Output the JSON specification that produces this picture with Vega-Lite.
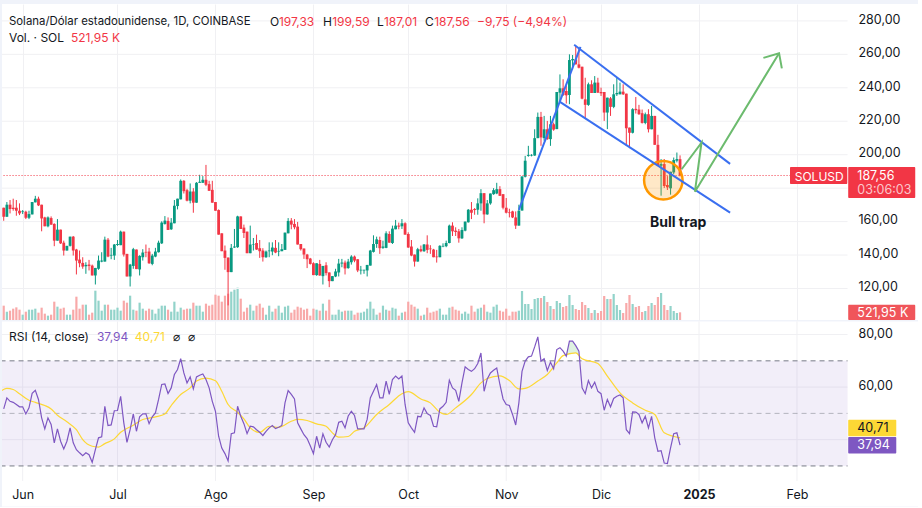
{
"$schema":"https://vega.github.io/schema/vega-lite/v6.json",
"background":"#f0f3fa",
"padding":{"left":2,"top":4,"right":0,"bottom":0},
"spacing":0.5,
"config":{"font":"Inter","view":{"stroke":null,"fill":"white"}},
"datasets":{
"candles":[
{"d":"2024-05-26","o":168.3,"c":162.9,"h":168.3,"l":160.5,"v":975,"r":51.7},
{"d":"2024-05-27","o":162.9,"c":170.1,"h":171.7,"l":162.9,"v":567,"r":55.9},
{"d":"2024-05-28","o":170.1,"c":167.5,"h":172.9,"l":164.9,"v":635,"r":54.6},
{"d":"2024-05-29","o":168.3,"c":167.5,"h":173.7,"l":166.5,"v":771,"r":54.2},
{"d":"2024-05-30","o":168.3,"c":166.5,"h":172.9,"l":163.5,"v":861,"r":53.4},
{"d":"2024-05-31","o":166.5,"c":164.9,"h":170.9,"l":163.9,"v":703,"r":52.5},
{"d":"2024-06-01","o":165.7,"c":166.1,"h":166.9,"l":164.5,"v":363,"r":52.5},
{"d":"2024-06-02","o":165.9,"c":162.3,"h":166.5,"l":161.5,"v":567,"r":49.8},
{"d":"2024-06-03","o":162.3,"c":164.5,"h":166.5,"l":161.5,"v":703,"r":52.1},
{"d":"2024-06-04","o":164.3,"c":171.7,"h":171.7,"l":164.3,"v":703,"r":57.6},
{"d":"2024-06-05","o":171.5,"c":173.7,"h":175.4,"l":171.5,"v":771,"r":58.8},
{"d":"2024-06-06","o":173.7,"c":169.7,"h":174.9,"l":169.3,"v":499,"r":55.3},
{"d":"2024-06-07","o":170.1,"c":161.9,"h":170.1,"l":154.2,"v":839,"r":48.3},
{"d":"2024-06-08","o":162.5,"c":157.2,"h":162.9,"l":157.2,"v":431,"r":44.1},
{"d":"2024-06-09","o":157.2,"c":162.5,"h":163.1,"l":156.6,"v":295,"r":48.3},
{"d":"2024-06-10","o":162.1,"c":158.2,"h":163.1,"l":158,"v":363,"r":45.8},
{"d":"2024-06-11","o":158.6,"c":148.6,"h":159,"l":145.3,"v":1247,"r":38.8},
{"d":"2024-06-12","o":148.6,"c":155.2,"h":161.5,"l":148.6,"v":907,"r":44.1},
{"d":"2024-06-13","o":155.2,"c":147,"h":155.2,"l":146.6,"v":771,"r":39.4},
{"d":"2024-06-14","o":147.4,"c":142.7,"h":148.6,"l":139.7,"v":839,"r":36.5},
{"d":"2024-06-15","o":142.7,"c":145.5,"h":145.5,"l":142.7,"v":363,"r":39.4},
{"d":"2024-06-16","o":145.5,"c":151,"h":151,"l":145.1,"v":363,"r":44.5},
{"d":"2024-06-17","o":151,"c":142.7,"h":151.4,"l":139.7,"v":703,"r":38.8},
{"d":"2024-06-18","o":143.3,"c":136.7,"h":143.7,"l":128.4,"v":1587,"r":36.2},
{"d":"2024-06-19","o":137.3,"c":135.1,"h":142.7,"l":132.7,"v":771,"r":35},
{"d":"2024-06-20","o":135.3,"c":133.1,"h":138.7,"l":131.8,"v":1043,"r":33.9},
{"d":"2024-06-21","o":133.3,"c":134.1,"h":135.7,"l":128.8,"v":1043,"r":35},
{"d":"2024-06-22","o":134.3,"c":133.5,"h":137.1,"l":130.8,"v":363,"r":34.3},
{"d":"2024-06-23","o":133.7,"c":127.8,"h":134.3,"l":127.8,"v":499,"r":31.4},
{"d":"2024-06-24","o":127.8,"c":132.3,"h":132.3,"l":122.4,"v":1995,"r":36.2},
{"d":"2024-06-25","o":131.8,"c":136.7,"h":139.7,"l":131.2,"v":1315,"r":40.7},
{"d":"2024-06-26","o":136.1,"c":136.7,"h":141.7,"l":135.7,"v":635,"r":41.1},
{"d":"2024-06-27","o":136.1,"c":149.2,"h":151,"l":136.1,"v":1043,"r":52.7},
{"d":"2024-06-28","o":149.2,"c":139.1,"h":150.2,"l":138.7,"v":1043,"r":45.4},
{"d":"2024-06-29","o":139.7,"c":140.1,"h":144.3,"l":137.5,"v":703,"r":45.6},
{"d":"2024-06-30","o":139.7,"c":146.3,"h":146.6,"l":137.1,"v":703,"r":51},
{"d":"2024-07-01","o":146,"c":146.6,"h":149,"l":145.5,"v":839,"r":51.1},
{"d":"2024-07-02","o":145.9,"c":154,"h":154.6,"l":145.9,"v":635,"r":56.5},
{"d":"2024-07-03","o":154,"c":140.3,"h":154,"l":139.1,"v":1315,"r":46.4},
{"d":"2024-07-04","o":140.7,"c":127.2,"h":140.7,"l":127.2,"v":1179,"r":39},
{"d":"2024-07-05","o":127.2,"c":134.3,"h":134.7,"l":121.2,"v":1655,"r":43.8},
{"d":"2024-07-06","o":133.5,"c":143.5,"h":144.3,"l":131.8,"v":703,"r":49.8},
{"d":"2024-07-07","o":143.3,"c":131.6,"h":143.3,"l":131.6,"v":635,"r":43.2},
{"d":"2024-07-08","o":131.4,"c":139.5,"h":139.9,"l":127.8,"v":1179,"r":48.7},
{"d":"2024-07-09","o":138.7,"c":141.5,"h":143.5,"l":136.7,"v":771,"r":49.8},
{"d":"2024-07-10","o":141.9,"c":141.5,"h":146.3,"l":138.7,"v":635,"r":49.8},
{"d":"2024-07-11","o":142.1,"c":135.1,"h":144.3,"l":134.7,"v":771,"r":46.1},
{"d":"2024-07-12","o":134.7,"c":139.7,"h":140.7,"l":133.9,"v":703,"r":48.7},
{"d":"2024-07-13","o":139.1,"c":142.1,"h":144.3,"l":138.7,"v":431,"r":50.2},
{"d":"2024-07-14","o":141.7,"c":147.4,"h":148.6,"l":141.5,"v":771,"r":55.3},
{"d":"2024-07-15","o":147,"c":159.4,"h":160.2,"l":146.6,"v":975,"r":61},
{"d":"2024-07-16","o":158.6,"c":160.6,"h":163.3,"l":158.2,"v":975,"r":61.2},
{"d":"2024-07-17","o":160.4,"c":155,"h":162.5,"l":155,"v":703,"r":57.6},
{"d":"2024-07-18","o":155.4,"c":159.4,"h":162.1,"l":155,"v":567,"r":59.7},
{"d":"2024-07-19","o":159,"c":169.5,"h":172.9,"l":159,"v":1247,"r":64.8},
{"d":"2024-07-20","o":169.3,"c":173.7,"h":173.7,"l":167.3,"v":567,"r":66.7},
{"d":"2024-07-21","o":173.3,"c":184.4,"h":185.2,"l":173.3,"v":839,"r":70.8},
{"d":"2024-07-22","o":184.4,"c":178.2,"h":184.8,"l":176.8,"v":703,"r":65.4},
{"d":"2024-07-23","o":178.8,"c":172.5,"h":179.6,"l":172.1,"v":771,"r":61.6},
{"d":"2024-07-24","o":172.5,"c":178,"h":182.8,"l":170.9,"v":771,"r":63.9},
{"d":"2024-07-25","o":178,"c":171.3,"h":180,"l":165.3,"v":1179,"r":59.3},
{"d":"2024-07-26","o":171.3,"c":183.2,"h":183.6,"l":171.3,"v":975,"r":63.9},
{"d":"2024-07-27","o":183.2,"c":183.8,"h":188,"l":183.2,"v":975,"r":64.5},
{"d":"2024-07-28","o":183.2,"c":185,"h":187.2,"l":183.2,"v":567,"r":65},
{"d":"2024-07-29","o":185,"c":182,"h":193.9,"l":181.2,"v":1111,"r":62.9},
{"d":"2024-07-30","o":182.4,"c":178.4,"h":184.4,"l":178.4,"v":975,"r":59.7},
{"d":"2024-07-31","o":179,"c":171.3,"h":184.4,"l":171.3,"v":1043,"r":54.6},
{"d":"2024-08-01","o":171.7,"c":166.5,"h":171.7,"l":166.5,"v":1723,"r":50.8},
{"d":"2024-08-02","o":166.9,"c":152.2,"h":167.3,"l":152.2,"v":1655,"r":41.3},
{"d":"2024-08-03","o":153,"c":142.3,"h":153,"l":142.3,"v":1247,"r":36.8},
{"d":"2024-08-04","o":142.7,"c":138.3,"h":145.7,"l":131.2,"v":1655,"r":34.7},
{"d":"2024-08-05","o":138.5,"c":129.8,"h":138.5,"l":109.9,"v":1791,"r":31.9},
{"d":"2024-08-06","o":129.8,"c":144.3,"h":146.6,"l":129.8,"v":1927,"r":42.3},
{"d":"2024-08-07","o":144.5,"c":145.1,"h":155.6,"l":144.3,"v":2063,"r":42.6},
{"d":"2024-08-08","o":144.7,"c":163.1,"h":163.5,"l":144.3,"v":2199,"r":52.7},
{"d":"2024-08-09","o":163.1,"c":155.6,"h":163.1,"l":155.6,"v":1451,"r":48.9},
{"d":"2024-08-10","o":156.4,"c":153.2,"h":158.2,"l":150.2,"v":567,"r":46.1},
{"d":"2024-08-11","o":154,"c":141.1,"h":154,"l":141.1,"v":839,"r":42.3},
{"d":"2024-08-12","o":141.1,"c":146.3,"h":157.6,"l":141.1,"v":1043,"r":45.1},
{"d":"2024-08-13","o":146.3,"c":146.6,"h":150.2,"l":142.7,"v":635,"r":44.9},
{"d":"2024-08-14","o":147.2,"c":143.3,"h":152.2,"l":143.1,"v":975,"r":43.8},
{"d":"2024-08-15","o":144.1,"c":142.3,"h":149,"l":138.3,"v":1111,"r":42.8},
{"d":"2024-08-16","o":142.7,"c":138.7,"h":144.1,"l":136.1,"v":839,"r":41.6},
{"d":"2024-08-17","o":138.7,"c":142.1,"h":142.7,"l":138.3,"v":363,"r":43.2},
{"d":"2024-08-18","o":142.3,"c":142.7,"h":147.6,"l":138.7,"v":975,"r":44.5},
{"d":"2024-08-19","o":142.1,"c":144.5,"h":147.6,"l":139.9,"v":567,"r":45.4},
{"d":"2024-08-20","o":144.3,"c":141.5,"h":149,"l":141.1,"v":771,"r":44.2},
{"d":"2024-08-21","o":142.1,"c":142.5,"h":147.6,"l":139.3,"v":975,"r":44.7},
{"d":"2024-08-22","o":142.3,"c":143.5,"h":146.6,"l":142.3,"v":499,"r":45.4},
{"d":"2024-08-23","o":143.1,"c":153.4,"h":153.4,"l":143.1,"v":907,"r":54},
{"d":"2024-08-24","o":153,"c":160.4,"h":162.1,"l":153,"v":975,"r":58.7},
{"d":"2024-08-25","o":160.6,"c":158.2,"h":162.1,"l":155.4,"v":499,"r":57.2},
{"d":"2024-08-26","o":158.6,"c":156.6,"h":161.5,"l":155.4,"v":703,"r":55.5},
{"d":"2024-08-27","o":157,"c":146.3,"h":159.8,"l":146.3,"v":907,"r":46.4},
{"d":"2024-08-28","o":146.6,"c":143.5,"h":146.6,"l":142.7,"v":839,"r":44.1},
{"d":"2024-08-29","o":143.9,"c":140.3,"h":143.9,"l":137.7,"v":703,"r":41.9},
{"d":"2024-08-30","o":140.3,"c":137.5,"h":140.7,"l":132.2,"v":771,"r":40.4},
{"d":"2024-08-31","o":137.9,"c":134.7,"h":138.3,"l":134.3,"v":295,"r":37.7},
{"d":"2024-09-01","o":135.1,"c":128,"h":135.7,"l":128,"v":771,"r":34.7},
{"d":"2024-09-02","o":128,"c":135.1,"h":135.1,"l":127.6,"v":703,"r":41.3},
{"d":"2024-09-03","o":134.7,"c":127.8,"h":137.1,"l":127.6,"v":635,"r":36.8},
{"d":"2024-09-04","o":127.4,"c":133.5,"h":133.5,"l":122.4,"v":1111,"r":42.2},
{"d":"2024-09-05","o":133.9,"c":129.2,"h":135.7,"l":127.8,"v":635,"r":39},
{"d":"2024-09-06","o":129.6,"c":124.4,"h":129.6,"l":120.8,"v":1383,"r":37.2},
{"d":"2024-09-07","o":124.4,"c":127.4,"h":127.4,"l":124.4,"v":363,"r":40},
{"d":"2024-09-08","o":127.2,"c":130.2,"h":131.8,"l":126.8,"v":363,"r":41.9},
{"d":"2024-09-09","o":129.6,"c":134.9,"h":137.7,"l":127.2,"v":703,"r":46.6},
{"d":"2024-09-10","o":134.9,"c":135.5,"h":137.7,"l":132.7,"v":567,"r":47},
{"d":"2024-09-11","o":135.5,"c":132,"h":136.7,"l":128.4,"v":635,"r":44.5},
{"d":"2024-09-12","o":132.2,"c":136.1,"h":137.7,"l":131.8,"v":635,"r":49},
{"d":"2024-09-13","o":135.7,"c":139.1,"h":139.9,"l":134.3,"v":635,"r":50.8},
{"d":"2024-09-14","o":139.1,"c":136.7,"h":139.7,"l":135.7,"v":363,"r":49.2},
{"d":"2024-09-15","o":137.5,"c":130.8,"h":137.5,"l":129.8,"v":499,"r":44.1},
{"d":"2024-09-16","o":130.8,"c":131.2,"h":133.5,"l":128.4,"v":499,"r":44.1},
{"d":"2024-09-17","o":130.8,"c":131.2,"h":131.2,"l":128.8,"v":567,"r":44.1},
{"d":"2024-09-18","o":130.8,"c":134.1,"h":134.1,"l":127.2,"v":771,"r":47.7},
{"d":"2024-09-19","o":133.7,"c":142.7,"h":143.1,"l":133.7,"v":1247,"r":55.9},
{"d":"2024-09-20","o":141.9,"c":146.6,"h":151.8,"l":141.5,"v":771,"r":58.4},
{"d":"2024-09-21","o":146.6,"c":149.4,"h":151,"l":144.3,"v":363,"r":61},
{"d":"2024-09-22","o":149,"c":144.1,"h":151,"l":140.7,"v":499,"r":55.9},
{"d":"2024-09-23","o":144.3,"c":145.1,"h":148.6,"l":143.7,"v":975,"r":55.9},
{"d":"2024-09-24","o":144.3,"c":153,"h":154.2,"l":144.1,"v":703,"r":62.3},
{"d":"2024-09-25","o":152.6,"c":147.4,"h":154.2,"l":147.4,"v":635,"r":57.2},
{"d":"2024-09-26","o":147.2,"c":155.8,"h":157.6,"l":146.6,"v":839,"r":62.9},
{"d":"2024-09-27","o":155.4,"c":157.6,"h":161,"l":155.4,"v":771,"r":64.2},
{"d":"2024-09-28","o":157.6,"c":157,"h":159.4,"l":155.4,"v":295,"r":63.1},
{"d":"2024-09-29","o":157.2,"c":159,"h":161.5,"l":155.6,"v":499,"r":64.2},
{"d":"2024-09-30","o":159,"c":152.2,"h":159.6,"l":152.2,"v":567,"r":53.4},
{"d":"2024-10-01","o":152.6,"c":144.5,"h":153.6,"l":144.3,"v":1247,"r":46.4},
{"d":"2024-10-02","o":145.1,"c":139.7,"h":149,"l":139.3,"v":1043,"r":44.5},
{"d":"2024-10-03","o":140.3,"c":136.1,"h":140.3,"l":133.1,"v":907,"r":42.8},
{"d":"2024-10-04","o":136.1,"c":143.5,"h":144.3,"l":136.1,"v":771,"r":48.9},
{"d":"2024-10-05","o":143.5,"c":142.3,"h":145.7,"l":141.7,"v":295,"r":48.7},
{"d":"2024-10-06","o":142.3,"c":146.3,"h":146.6,"l":141.9,"v":363,"r":52.1},
{"d":"2024-10-07","o":146.3,"c":143.1,"h":151.8,"l":141.1,"v":839,"r":49.9},
{"d":"2024-10-08","o":143.9,"c":143.5,"h":145.9,"l":140.7,"v":499,"r":49.2},
{"d":"2024-10-09","o":143.3,"c":138.7,"h":143.7,"l":138.7,"v":567,"r":45.1},
{"d":"2024-10-10","o":139.1,"c":138.7,"h":143.1,"l":135.5,"v":635,"r":44.9},
{"d":"2024-10-11","o":138.7,"c":145.5,"h":145.9,"l":138.7,"v":771,"r":51.7},
{"d":"2024-10-12","o":145.1,"c":145.5,"h":147,"l":144.7,"v":363,"r":52.7},
{"d":"2024-10-13","o":145.3,"c":147.2,"h":148.6,"l":144.7,"v":363,"r":54.2},
{"d":"2024-10-14","o":147.2,"c":157.6,"h":158.2,"l":147,"v":839,"r":62.6},
{"d":"2024-10-15","o":157.6,"c":154.2,"h":159.6,"l":151.4,"v":907,"r":59.7},
{"d":"2024-10-16","o":154.6,"c":153.8,"h":156.6,"l":151.4,"v":703,"r":58.8},
{"d":"2024-10-17","o":154.2,"c":150,"h":155.6,"l":147.4,"v":635,"r":54.6},
{"d":"2024-10-18","o":150,"c":155,"h":156.6,"l":149.6,"v":431,"r":61.6},
{"d":"2024-10-19","o":154.6,"c":160,"h":160,"l":154.2,"v":567,"r":67.7},
{"d":"2024-10-20","o":159.6,"c":167.1,"h":167.5,"l":159.4,"v":431,"r":66.7},
{"d":"2024-10-21","o":167.1,"c":165.3,"h":171.7,"l":161.5,"v":975,"r":66},
{"d":"2024-10-22","o":167.5,"c":166.9,"h":168.1,"l":164.1,"v":567,"r":67},
{"d":"2024-10-23","o":167.1,"c":170.9,"h":173.9,"l":164.1,"v":771,"r":69},
{"d":"2024-10-24","o":170.9,"c":177,"h":179.4,"l":166.5,"v":839,"r":73},
{"d":"2024-10-25","o":177,"c":164.3,"h":177,"l":159,"v":1043,"r":58.4},
{"d":"2024-10-26","o":164.3,"c":170.9,"h":172.9,"l":164.1,"v":567,"r":63.1},
{"d":"2024-10-27","o":170.9,"c":176.8,"h":176.8,"l":170.1,"v":499,"r":65.4},
{"d":"2024-10-28","o":176.4,"c":178.8,"h":180,"l":176,"v":907,"r":66.4},
{"d":"2024-10-29","o":176.8,"c":179.4,"h":183.2,"l":176.4,"v":1043,"r":67.3},
{"d":"2024-10-30","o":179.4,"c":175.4,"h":181.2,"l":175.4,"v":635,"r":61},
{"d":"2024-10-31","o":176.4,"c":168.3,"h":176.4,"l":167.3,"v":567,"r":55.5},
{"d":"2024-11-01","o":168.3,"c":165.3,"h":174.1,"l":164.9,"v":771,"r":53.4},
{"d":"2024-11-02","o":165.5,"c":165.1,"h":167.7,"l":162.5,"v":295,"r":53},
{"d":"2024-11-03","o":166.1,"c":162.5,"h":166.5,"l":162.1,"v":567,"r":49.6},
{"d":"2024-11-04","o":162.5,"c":157.6,"h":166.1,"l":155.6,"v":567,"r":45.6},
{"d":"2024-11-05","o":157.6,"c":166.5,"h":170.1,"l":157.6,"v":635,"r":54},
{"d":"2024-11-06","o":166.6,"c":187,"h":187,"l":166.6,"v":1972,"r":66},
{"d":"2024-11-07","o":186.8,"c":196.4,"h":199.3,"l":186.4,"v":1088,"r":69.9},
{"d":"2024-11-08","o":199.3,"c":199.9,"h":205.3,"l":198.8,"v":1088,"r":71.5},
{"d":"2024-11-09","o":199.5,"c":199.9,"h":200.3,"l":199,"v":748,"r":71.8},
{"d":"2024-11-10","o":199.5,"c":209.9,"h":215.2,"l":199.3,"v":1428,"r":75.3},
{"d":"2024-11-11","o":209.9,"c":222.6,"h":225.2,"l":209.9,"v":1496,"r":79.1},
{"d":"2024-11-12","o":222.6,"c":210.3,"h":225.6,"l":205.3,"v":1496,"r":69.9},
{"d":"2024-11-13","o":209.9,"c":215.2,"h":223.2,"l":208.3,"v":1632,"r":70.8},
{"d":"2024-11-14","o":215.2,"c":209.3,"h":220.2,"l":208.9,"v":1224,"r":66.3},
{"d":"2024-11-15","o":209.3,"c":218.2,"h":223.2,"l":205.3,"v":952,"r":69.5},
{"d":"2024-11-16","o":218.2,"c":215,"h":219.2,"l":214.3,"v":748,"r":67},
{"d":"2024-11-17","o":215.3,"c":237.5,"h":237.5,"l":215.3,"v":1292,"r":74.3},
{"d":"2024-11-18","o":237.1,"c":239.7,"h":248,"l":231.2,"v":1156,"r":75},
{"d":"2024-11-19","o":239.7,"c":235.7,"h":245.1,"l":235.1,"v":884,"r":73.7},
{"d":"2024-11-20","o":238.1,"c":235.5,"h":241.1,"l":230.6,"v":952,"r":71.8},
{"d":"2024-11-21","o":235.7,"c":256.6,"h":260,"l":230.2,"v":1700,"r":77.5},
{"d":"2024-11-22","o":256.4,"c":257.2,"h":259.6,"l":251,"v":1020,"r":77.5},
{"d":"2024-11-23","o":257,"c":254,"h":265,"l":254,"v":748,"r":75.8},
{"d":"2024-11-24","o":254,"c":252,"h":264,"l":251.6,"v":680,"r":73.7},
{"d":"2024-11-25","o":252.6,"c":233.5,"h":252.6,"l":233.1,"v":1224,"r":59.7},
{"d":"2024-11-26","o":233.1,"c":229.8,"h":246,"l":221.6,"v":1020,"r":57.5},
{"d":"2024-11-27","o":229.8,"c":242.1,"h":243.1,"l":229.2,"v":816,"r":62.5},
{"d":"2024-11-28","o":242.1,"c":236.9,"h":244.5,"l":236.9,"v":476,"r":59.7},
{"d":"2024-11-29","o":236.9,"c":243.1,"h":247,"l":236.9,"v":680,"r":61.9},
{"d":"2024-11-30","o":243.1,"c":237.1,"h":246,"l":236.9,"v":476,"r":58.4},
{"d":"2024-12-01","o":237.5,"c":236.7,"h":240.1,"l":235.1,"v":612,"r":57.5},
{"d":"2024-12-02","o":237.5,"c":225.2,"h":237.5,"l":220.2,"v":1632,"r":51.2},
{"d":"2024-12-03","o":225.2,"c":234.1,"h":234.1,"l":215.3,"v":1428,"r":55.3},
{"d":"2024-12-04","o":233.7,"c":228.6,"h":234.5,"l":223.2,"v":1428,"r":52.5},
{"d":"2024-12-05","o":228.6,"c":236.1,"h":242.1,"l":227.8,"v":1768,"r":55.7},
{"d":"2024-12-06","o":236.1,"c":236.9,"h":246.1,"l":235.1,"v":1020,"r":56.5},
{"d":"2024-12-07","o":236.1,"c":237.7,"h":243.1,"l":236.1,"v":680,"r":57},
{"d":"2024-12-08","o":237.7,"c":236.1,"h":242.1,"l":235.7,"v":476,"r":55.9},
{"d":"2024-12-09","o":236.5,"c":215.8,"h":236.5,"l":205.3,"v":1156,"r":43.8},
{"d":"2024-12-10","o":216.2,"c":213.1,"h":216.2,"l":203.9,"v":1700,"r":42.3},
{"d":"2024-12-11","o":213.1,"c":227.2,"h":227.8,"l":212.7,"v":1088,"r":50.6},
{"d":"2024-12-12","o":227.4,"c":226.6,"h":234.5,"l":224.6,"v":884,"r":50.5},
{"d":"2024-12-13","o":227,"c":224.2,"h":229.8,"l":223.8,"v":952,"r":49.6},
{"d":"2024-12-14","o":224.8,"c":219,"h":227,"l":218.6,"v":544,"r":46.4},
{"d":"2024-12-15","o":219,"c":224.2,"h":225.2,"l":218.2,"v":612,"r":48.9},
{"d":"2024-12-16","o":224.2,"c":215.2,"h":227.2,"l":213.3,"v":952,"r":44.5},
{"d":"2024-12-17","o":215.2,"c":223.2,"h":229.2,"l":215.2,"v":1156,"r":48.9},
{"d":"2024-12-18","o":223.2,"c":205.9,"h":223.2,"l":205.9,"v":1020,"r":40.7},
{"d":"2024-12-19","o":205.9,"c":193.4,"h":211.9,"l":193.4,"v":1564,"r":35.6},
{"d":"2024-12-20","o":193.4,"c":194.4,"h":197.4,"l":175.5,"v":1836,"r":35.8},
{"d":"2024-12-21","o":194.4,"c":181.3,"h":197.4,"l":180.1,"v":1020,"r":31.1},
{"d":"2024-12-22","o":181.9,"c":180.5,"h":187.2,"l":178.9,"v":680,"r":30.9},
{"d":"2024-12-23","o":179.9,"c":189.8,"h":189.8,"l":176.1,"v":952,"r":36.9},
{"d":"2024-12-24","o":189.4,"c":196.8,"h":198.3,"l":188.4,"v":612,"r":42.3},
{"d":"2024-12-25","o":196.4,"c":197.4,"h":201.3,"l":195.4,"v":476,"r":42.6},
{"d":"2024-12-26","o":197.33,"c":187.56,"h":199.59,"l":187.01,"v":522,"r":37.94}
],
"rsi_ma":[
{"d":"2024-05-25","m":58.4},{"d":"2024-05-27","m":59.5},{"d":"2024-05-29","m":59.1},{"d":"2024-05-31","m":57.5},
{"d":"2024-06-03","m":55},{"d":"2024-06-05","m":54.2},{"d":"2024-06-08","m":53},{"d":"2024-06-10","m":51.7},
{"d":"2024-06-12","m":49.3},{"d":"2024-06-15","m":46.8},{"d":"2024-06-18","m":43.8},{"d":"2024-06-20","m":40},
{"d":"2024-06-23","m":37.5},{"d":"2024-06-25","m":37.2},{"d":"2024-06-27","m":38.5},{"d":"2024-06-30","m":40.3},
{"d":"2024-07-02","m":42.8},{"d":"2024-07-06","m":45.5},{"d":"2024-07-09","m":47.7},{"d":"2024-07-11","m":48.2},
{"d":"2024-07-13","m":48.7},{"d":"2024-07-16","m":49.8},{"d":"2024-07-18","m":53},{"d":"2024-07-21","m":57.2},
{"d":"2024-07-24","m":59.7},{"d":"2024-07-26","m":62.3},{"d":"2024-07-29","m":63.4},{"d":"2024-08-01","m":62.4},
{"d":"2024-08-03","m":58.4},{"d":"2024-08-05","m":53.4},{"d":"2024-08-08","m":50.4},{"d":"2024-08-10","m":47.9},
{"d":"2024-08-12","m":44.5},{"d":"2024-08-15","m":42.8},{"d":"2024-08-18","m":45.1},{"d":"2024-08-21","m":44.7},
{"d":"2024-08-25","m":47},{"d":"2024-08-27","m":47.7},{"d":"2024-08-30","m":47.3},{"d":"2024-09-02","m":46},
{"d":"2024-09-05","m":45.1},{"d":"2024-09-07","m":42.6},{"d":"2024-09-09","m":41},{"d":"2024-09-12","m":41.2},
{"d":"2024-09-14","m":43.2},{"d":"2024-09-17","m":44.5},{"d":"2024-09-21","m":49.6},{"d":"2024-09-25","m":53.4},
{"d":"2024-09-29","m":57.5},{"d":"2024-10-01","m":58.3},{"d":"2024-10-05","m":55.5},{"d":"2024-10-08","m":54},
{"d":"2024-10-11","m":50.4},{"d":"2024-10-13","m":49.6},{"d":"2024-10-16","m":52.1},{"d":"2024-10-21","m":57.2},
{"d":"2024-10-24","m":61.6},{"d":"2024-10-26","m":63.3},{"d":"2024-10-30","m":64.3},{"d":"2024-11-02","m":62.5},
{"d":"2024-11-05","m":59.3},{"d":"2024-11-07","m":59.5},{"d":"2024-11-11","m":62.3},{"d":"2024-11-14","m":64.8},
{"d":"2024-11-17","m":69.2},{"d":"2024-11-19","m":72},{"d":"2024-11-23","m":73},{"d":"2024-11-25","m":70.8},
{"d":"2024-11-30","m":69},{"d":"2024-12-03","m":64.2},{"d":"2024-12-07","m":57.8},{"d":"2024-12-11","m":54},
{"d":"2024-12-15","m":51.2},{"d":"2024-12-18","m":49.6},{"d":"2024-12-21","m":42.6},{"d":"2024-12-26","m":40.71}
],
"rsi_peak":[
{"d":"2024-11-20","r":71.8,"b":71.8},{"d":"2024-11-21","r":77.5,"b":72.3},{"d":"2024-11-22","r":77.5,"b":72.7},{"d":"2024-11-23","r":75.8,"b":73},{"d":"2024-11-24","r":73.7,"b":72.5}
],
"price_grid":[
{"p":120,"d":"2024-05-25","d2":"2025-02-17"},{"p":140,"d":"2024-05-25","d2":"2025-02-17"},{"p":160,"d":"2024-05-25","d2":"2025-02-17"},{"p":180,"d":"2024-05-25","d2":"2025-02-17"},{"p":200,"d":"2024-05-25","d2":"2025-02-17"},{"p":220,"d":"2024-05-25","d2":"2025-02-17"},{"p":240,"d":"2024-05-25","d2":"2025-02-17"},{"p":260,"d":"2024-05-25","d2":"2025-02-17"},{"p":280,"d":"2024-05-25","d2":"2025-02-17"}
],
"last_price":[{"p":187.56,"d":"2024-05-25","d2":"2025-01-29T19:00:00Z"}],
"blue_lines":[
{"id":"rise","d":"2024-11-05","p":167},{"id":"rise","d":"2024-11-24T12:00:00Z","p":264.5},
{"id":"top","d":"2024-11-22T12:00:00Z","p":265.7},{"id":"top","d":"2025-01-10T20:00:00Z","p":194.5},
{"id":"bottom","d":"2024-11-18","p":231.6},{"id":"bottom","d":"2025-01-10T20:00:00Z","p":165.4}
],
"green_lines":[
{"id":"path","s":1,"d":"2024-12-26T12:00:00Z","p":191.3},{"id":"path","s":2,"d":"2025-01-01T19:00:00Z","p":207.2},{"id":"path","s":3,"d":"2024-12-30T17:00:00Z","p":177.9},{"id":"path","s":4,"d":"2025-01-26T08:00:00Z","p":260.7},
{"id":"head","s":1,"d":"2025-01-21T09:00:00Z","p":257.9},{"id":"head","s":2,"d":"2025-01-26T08:00:00Z","p":260.7},{"id":"head","s":3,"d":"2025-01-27T05:00:00Z","p":251.6}
],
"circle":[{"d":"2024-12-20T17:00:00Z","p":184.7}],
"bull":[{"d":"2024-12-25T10:00:00Z","p":159.2,"t":"Bull trap"}],
"price_tags":[
{"d":"2025-01-29T19:00:00Z","d2":"2025-02-16T22:00:00Z","p":192.6,"p2":182.5,"k":"down"},
{"d":"2025-02-17T05:00:00Z","d2":"2025-03-10T10:00:00Z","p":192.6,"p2":174.1,"k":"down"},
{"d":"2025-02-17T05:00:00Z","d2":"2025-03-10T10:00:00Z","p":110.3,"p2":101.17,"k":"voltag"}
],
"price_title":[
{"d":"2024-05-27T16:00:00Z","p":279.6,"t":"Solana/Dólar estadounidense, 1D, COINBASE","k":"label"}
],
"price_head":[
{"d":"2024-08-18T07:00:00Z","p":279.6,"t":"O","k":"label"},
{"d":"2024-08-21T02:00:00Z","p":279.6,"t":"197,33","k":"down"},
{"d":"2024-09-04","p":279.6,"t":"H","k":"label"},
{"d":"2024-09-06T22:00:00Z","p":279.6,"t":"199,59","k":"down"},
{"d":"2024-09-21T02:00:00Z","p":279.6,"t":"L","k":"label"},
{"d":"2024-09-23T07:00:00Z","p":279.6,"t":"187,01","k":"down"},
{"d":"2024-10-06T07:00:00Z","p":279.6,"t":"C","k":"label"},
{"d":"2024-10-09T05:00:00Z","p":279.6,"t":"187,56","k":"down"},
{"d":"2024-10-22T19:00:00Z","p":279.6,"t":"−9,75 (−4,94%)","k":"down"},
{"d":"2024-05-27T16:00:00Z","p":270,"t":"Vol. · SOL","k":"label"},
{"d":"2024-06-16T07:00:00Z","p":270,"t":"521,95 K","k":"down"},
{"d":"2025-01-31T07:00:00Z","p":186.9,"t":"SOLUSD","k":"tag"}
],
"price_text":[
{"d":"2025-02-20T02:00:00Z","p":187.2,"t":"187,56","k":"tag"},
{"d":"2025-02-20T02:00:00Z","p":179,"t":"03:06:03","k":"tagdim"},
{"d":"2025-02-20T02:00:00Z","p":105.1,"t":"521,95 K","k":"tag"}
],
"rsi_grid":[
{"r":80,"d":"2024-05-25","d2":"2025-02-17"},{"r":60,"d":"2024-05-25","d2":"2025-02-17"},{"r":40,"d":"2024-05-25","d2":"2025-02-17"}
],
"months":[
{"d":"2024-06-01","r":24.3,"r2":84.97},{"d":"2024-07-01","r":24.3,"r2":84.97},{"d":"2024-08-01","r":24.3,"r2":84.97},{"d":"2024-09-01","r":24.3,"r2":84.97},{"d":"2024-10-01","r":24.3,"r2":84.97},{"d":"2024-11-01","r":24.3,"r2":84.97},{"d":"2024-12-01","r":24.3,"r2":84.97},{"d":"2025-01-01","r":24.3,"r2":84.97},{"d":"2025-02-01","r":24.3,"r2":84.97}
],
"rsi_band":[{"d":"2024-05-25","d2":"2025-02-17","r":70,"r2":30}],
"rsi_outer":[{"r":70,"d":"2024-05-25","d2":"2025-02-17"},{"r":30,"d":"2024-05-25","d2":"2025-02-17"}],
"rsi_mid":[{"r":50,"d":"2024-05-25","d2":"2025-02-17"}],
"rsi_tags":[
{"d":"2025-02-17T05:00:00Z","d2":"2025-03-04T10:00:00Z","r":47.6,"r2":41.3,"k":"ma"},
{"d":"2025-02-17T05:00:00Z","d2":"2025-03-04T10:00:00Z","r":41,"r2":34.7,"k":"rsi"}
],
"rsi_head":[
{"d":"2024-05-27T16:00:00Z","r":79.1,"t":"RSI (14, close)","k":"label"},
{"d":"2024-06-24T12:00:00Z","r":79.1,"t":"37,94","k":"rsi"},
{"d":"2024-07-06T12:00:00Z","r":79.1,"t":"40,71","k":"ma"},
{"d":"2024-07-18T14:00:00Z","r":79.1,"t":"⌀","k":"label"},
{"d":"2024-07-23T07:00:00Z","r":79.1,"t":"⌀","k":"label"}
],
"rsi_text":[
{"d":"2025-02-20T02:00:00Z","r":44.5,"t":"40,71","k":"label"},
{"d":"2025-02-20T02:00:00Z","r":37.9,"t":"37,94","k":"tag"}
]
},
"vconcat":[
{
"width":916,"height":316,
"encoding":{"x":{"field":"d","type":"temporal","scale":{"type":"utc","nice":false,"padding":0,"domain":["2024-05-25T11:00:00Z","2025-03-11T07:00:00Z"]},
"axis":{"title":null,"labels":false,"ticks":false,"domain":false,"grid":true,"gridColor":"#f0f0f3","values":["2024-06-01","2024-07-01","2024-08-01","2024-09-01","2024-10-01","2024-11-01","2024-12-01","2025-01-01","2025-02-01"]}}},
"layer":[
{"data":{"name":"candles"},"mark":{"type":"bar","size":2.2,"clip":true},
"encoding":{"y":{"field":"v","type":"quantitative","scale":{"domain":[0,21500],"nice":false},"axis":null},
"color":{"condition":{"test":"datum.c>=datum.o","value":"#92d3ca"},"value":"#f8a9a9"}}},
{"layer":[
{"data":{"name":"price_grid"},"mark":{"type":"rule","color":"#f0f0f3","strokeWidth":1,"clip":true},
"encoding":{"x2":{"field":"d2"},"y":{"field":"p","type":"quantitative","scale":{"domain":[101.17,290.1],"nice":false},
"axis":{"title":null,"orient":"right","offset":-61,"grid":false,"ticks":false,"domain":false,"labelPadding":1,"labelAlign":"left","labelBaseline":"middle","labelOffset":-1.7,"labelFontSize":12.5,"labelColor":"#131722","labelFont":"Inter","labelOverlap":false,"zindex":1,"values":[120,140,160,200,220,240,260,280],"labelExpr":"format(datum.value,'.0f')+',00'"}}}},
{"data":{"name":"candles"},"mark":{"type":"rule","strokeWidth":1,"clip":true},
"encoding":{"y":{"field":"l","type":"quantitative","scale":{"domain":[101.17,290.1],"nice":false},"axis":null},"y2":{"field":"h"},
"color":{"condition":{"test":"datum.c>=datum.o","value":"#089981"},"value":"#f23645"}}},
{"data":{"name":"candles"},"mark":{"type":"bar","size":2.8,"clip":true},
"encoding":{"y":{"field":"o","type":"quantitative","scale":{"domain":[101.17,290.1],"nice":false},"axis":null},"y2":{"field":"c"},
"color":{"condition":{"test":"datum.c>=datum.o","value":"#089981"},"value":"#f23645"}}},
{"data":{"name":"last_price"},"mark":{"type":"rule","color":"#f23645","strokeWidth":1,"strokeDash":[1,2],"clip":true},
"encoding":{"x2":{"field":"d2"},"y":{"field":"p","type":"quantitative","scale":{"domain":[101.17,290.1],"nice":false},"axis":null}}},
{"data":{"name":"circle"},"mark":{"type":"circle","size":1479,"fill":"#ff9800","fillOpacity":0.22,"stroke":"#ff9800","strokeWidth":2.5,"opacity":1},
"encoding":{"y":{"field":"p","type":"quantitative","scale":{"domain":[101.17,290.1],"nice":false},"axis":null}}},
{"data":{"name":"blue_lines"},"mark":{"type":"line","color":"#3a6ff0","strokeWidth":2,"clip":true},
"encoding":{"y":{"field":"p","type":"quantitative","scale":{"domain":[101.17,290.1],"nice":false},"axis":null},"detail":{"field":"id"}}},
{"data":{"name":"green_lines"},"mark":{"type":"line","color":"#6cbb6e","strokeWidth":2,"clip":true},
"encoding":{"y":{"field":"p","type":"quantitative","scale":{"domain":[101.17,290.1],"nice":false},"axis":null},"detail":{"field":"id"},"order":{"field":"s"}}},
{"data":{"name":"bull"},"mark":{"type":"text","font":"Inter","fontSize":14,"fontWeight":"bold","color":"#131722","align":"center","baseline":"middle"},
"encoding":{"y":{"field":"p","type":"quantitative","scale":{"domain":[101.17,290.1],"nice":false},"axis":null},"text":{"field":"t"}}},
{"data":{"name":"price_tags"},"mark":{"type":"rect","cornerRadius":1},
"encoding":{"x2":{"field":"d2"},"y":{"field":"p","type":"quantitative","scale":{"domain":[101.17,290.1],"nice":false},"axis":null},"y2":{"field":"p2"},
"color":{"field":"k","type":"nominal","legend":null,"scale":{"domain":["label","down","tag","tagdim","rsi","ma","voltag"],"range":["#131722","#f23645","#ffffff","#fbc7cb","#7e57c2","#fdd835","#f0555a"]}}}},
{"data":{"name":"price_title"},"mark":{"type":"text","font":"Inter","fontSize":11.4,"align":"left","baseline":"middle"},
"encoding":{"y":{"field":"p","type":"quantitative","scale":{"domain":[101.17,290.1],"nice":false},"axis":null},"text":{"field":"t"},
"color":{"field":"k","type":"nominal","legend":null}}},
{"data":{"name":"price_head"},"mark":{"type":"text","font":"Inter","fontSize":12,"align":"left","baseline":"middle"},
"encoding":{"y":{"field":"p","type":"quantitative","scale":{"domain":[101.17,290.1],"nice":false},"axis":null},"text":{"field":"t"},
"color":{"field":"k","type":"nominal","legend":null}}},
{"data":{"name":"price_text"},"mark":{"type":"text","font":"Inter","fontSize":12.5,"align":"left","baseline":"middle"},
"encoding":{"y":{"field":"p","type":"quantitative","scale":{"domain":[101.17,290.1],"nice":false},"axis":null},"text":{"field":"t"},
"color":{"field":"k","type":"nominal","legend":null}}}
],
"resolve":{"axis":{"y":"independent"}}}
],
"resolve":{"scale":{"y":"independent"}}
},
{
"width":916,"height":185,
"resolve":{"axis":{"y":"independent"}},
"encoding":{"x":{"field":"d","type":"temporal","scale":{"type":"utc","nice":false,"padding":0,"domain":["2024-05-25T11:00:00Z","2025-03-11T07:00:00Z"]},
"axis":{"title":null,"orient":"bottom","offset":-26,"grid":false,"ticks":false,"domain":false,"labelPadding":8,"labelFontSize":12.5,"labelColor":"#131722","labelFont":"Inter","labelOverlap":false,"labelFlush":false,"values":["2024-06-01","2024-07-01","2024-08-01","2024-09-01","2024-10-01","2024-11-01","2024-12-01","2025-01-01","2025-02-01"],
"labelExpr":"{'5':'Jun','6':'Jul','7':'Ago','8':'Sep','9':'Oct','10':'Nov','11':'Dic','0':'2025','1':'Feb'}[utcmonth(datum.value)]",
"labelFontWeight":{"condition":{"test":"utcmonth(datum.value)==0","value":"bold"},"value":"normal"}}}},
"layer":[
{"data":{"name":"rsi_grid"},"mark":{"type":"rule","color":"#f0f0f3","strokeWidth":1,"clip":true},
"encoding":{"x2":{"field":"d2"},"y":{"field":"r","type":"quantitative","scale":{"domain":[14.57,84.97],"nice":false},
"axis":{"title":null,"orient":"right","offset":-61,"grid":false,"ticks":false,"domain":false,"labelPadding":1,"labelAlign":"left","labelBaseline":"middle","labelOffset":-1.5,"labelFontSize":12.5,"labelColor":"#131722","labelFont":"Inter","labelOverlap":false,"zindex":1,"values":[80,60],"labelExpr":"format(datum.value,'.0f')+',00'"}}}},
{"data":{"name":"months"},"mark":{"type":"rule","color":"#f0f0f3","strokeWidth":1},
"encoding":{"y":{"field":"r","type":"quantitative","scale":{"domain":[14.57,84.97],"nice":false},"axis":null},"y2":{"field":"r2"}}},
{"data":{"name":"rsi_band"},"mark":{"type":"rect","color":"#7e57c2","opacity":0.1,"clip":true},
"encoding":{"x2":{"field":"d2"},"y":{"field":"r","type":"quantitative","scale":{"domain":[14.57,84.97],"nice":false},"axis":null},"y2":{"field":"r2"}}},
{"data":{"name":"rsi_mid"},"mark":{"type":"rule","color":"#787b86","opacity":0.5,"strokeWidth":1,"strokeDash":[5,4],"clip":true},
"encoding":{"x2":{"field":"d2"},"y":{"field":"r","type":"quantitative","scale":{"domain":[14.57,84.97],"nice":false},"axis":null}}},
{"data":{"name":"rsi_outer"},"mark":{"type":"rule","color":"#787b86","strokeWidth":1,"strokeDash":[5,4],"clip":true},
"encoding":{"x2":{"field":"d2"},"y":{"field":"r","type":"quantitative","scale":{"domain":[14.57,84.97],"nice":false},"axis":null}}},
{"data":{"name":"rsi_peak"},"mark":{"type":"area","color":"#dff2e1"},
"encoding":{"y":{"field":"r","type":"quantitative","scale":{"domain":[14.57,84.97],"nice":false},"axis":null},"y2":{"field":"b"}}},
{"data":{"name":"rsi_ma"},"mark":{"type":"line","color":"#fdd835","strokeWidth":1.2,"interpolate":"monotone","clip":true},
"encoding":{"y":{"field":"m","type":"quantitative","scale":{"domain":[14.57,84.97],"nice":false},"axis":null}}},
{"data":{"name":"candles"},"mark":{"type":"line","color":"#7e57c2","strokeWidth":1.2,"clip":true},
"encoding":{"y":{"field":"r","type":"quantitative","scale":{"domain":[14.57,84.97],"nice":false},"axis":null}}},
{"data":{"name":"rsi_tags"},"mark":{"type":"rect","cornerRadius":1},
"encoding":{"x2":{"field":"d2"},"y":{"field":"r","type":"quantitative","scale":{"domain":[14.57,84.97],"nice":false},"axis":null},"y2":{"field":"r2"},
"color":{"field":"k","type":"nominal","legend":null}}},
{"data":{"name":"rsi_head"},"mark":{"type":"text","font":"Inter","fontSize":12,"align":"left","baseline":"middle"},
"encoding":{"y":{"field":"r","type":"quantitative","scale":{"domain":[14.57,84.97],"nice":false},"axis":null},"text":{"field":"t"},
"color":{"field":"k","type":"nominal","legend":null}}},
{"data":{"name":"rsi_text"},"mark":{"type":"text","font":"Inter","fontSize":12.5,"align":"left","baseline":"middle"},
"encoding":{"y":{"field":"r","type":"quantitative","scale":{"domain":[14.57,84.97],"nice":false},"axis":null},"text":{"field":"t"},
"color":{"field":"k","type":"nominal","legend":null}}}
]
}
]
}
